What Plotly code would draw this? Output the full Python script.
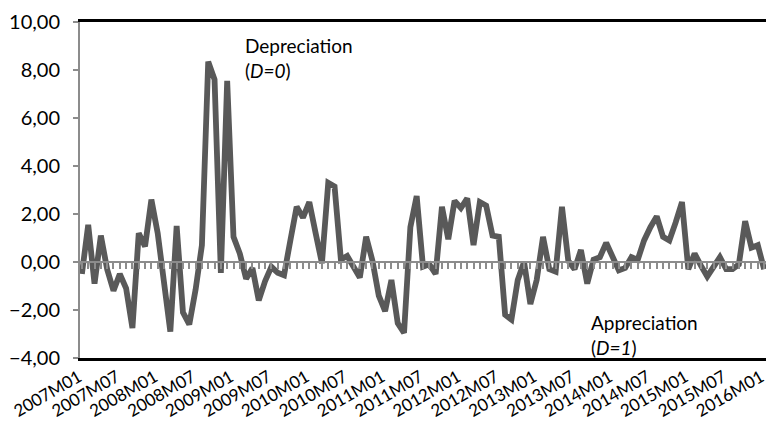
import plotly.graph_objects as go

# Monthly periods 2007M01 .. 2016M01
periods = [f"{y}M{m:02d}" for y in range(2007, 2017) for m in range(1, 13)][:109]

values = [
    -0.5, 1.55, -0.9, 1.1, -0.3, -1.2, -0.5, -1.1, -2.75, 1.2,
    0.65, 2.6, 1.2, -0.8, -2.9, 1.5, -2.1, -2.6, -1.15, 0.7,
    8.35, 7.6, -0.45, 7.55, 1.05, 0.35, -0.7, -0.25, -1.6, -0.8,
    -0.2, -0.45, -0.55, 0.9, 2.3, 1.85, 2.5, 1.2, -0.05, 3.3,
    3.15, 0.1, 0.25, -0.2, -0.65, 1.05, 0.05, -1.4, -2.05, -0.75,
    -2.55, -2.95, 1.45, 2.75, -0.2, -0.1, -0.5, 2.3, 0.95, 2.55,
    2.25, 2.65, 0.7, 2.5, 2.35, 1.1, 1.05, -2.2, -2.4, -0.75,
    0.0, -1.75, -0.75, 1.05, -0.3, -0.4, 2.3, 0.05, -0.3, 0.5,
    -0.9, 0.1, 0.2, 0.8, 0.25, -0.35, -0.25, 0.2, 0.1, 0.9,
    1.45, 1.9, 1.05, 0.9, 1.65, 2.5, -0.3, 0.35, -0.15, -0.6,
    -0.2, 0.2, -0.3, -0.3, -0.1, 1.7, 0.6, 0.7, -0.3,
]

tick_labels = periods[::6]
y_ticks = [-4, -2, 0, 2, 4, 6, 8, 10]

idx = list(range(len(periods)))

FONT = "Lato"

fig = go.Figure()

# invisible trace to carry the category tick axis at y = 0
fig.add_trace(go.Scatter(
    x=idx, y=values, xaxis="x2", mode="lines",
    line=dict(color="rgba(0,0,0,0)", width=0), hoverinfo="skip", showlegend=False,
))

fig.add_trace(go.Scatter(
    x=idx, y=values, mode="lines",
    line=dict(color="#595959", width=5.8),
    showlegend=False,
))

fig.update_layout(
    width=766, height=432,
    margin=dict(l=80, r=0, t=22, b=74),
    paper_bgcolor="white", plot_bgcolor="white",
    separators=",.",
    font=dict(family=FONT, size=16, color="#000000"),
    xaxis=dict(
        range=[-0.3, 108.3],
        tickmode="array",
        tickvals=idx[::6],
        ticktext=tick_labels,
        tickangle=-30,
        tickfont=dict(size=17, family=FONT),
        ticklabeloverflow="allow",
        ticklabelshift=-3,
        showgrid=False, zeroline=False,
        showline=True, linecolor="#000000", linewidth=2.5, mirror=True,
        ticks="", automargin=False,
    ),
    xaxis2=dict(
        range=[-0.3, 108.3],
        overlaying="x",
        anchor="free",
        position=4 / 14,
        side="bottom",
        showticklabels=False,
        showgrid=False, zeroline=False,
        showline=True, linecolor="#8c8c8c", linewidth=2,
        ticks="outside", ticklen=6, tickwidth=2, tickcolor="#8c8c8c",
        tickmode="linear", tick0=0, dtick=1, automargin=False,
    ),
    yaxis=dict(
        range=[-4, 10],
        tickvals=y_ticks,
        tickformat=".2f",
        tickfont=dict(size=20, family=FONT),
        ticklabelstandoff=9,
        showgrid=False, zeroline=False,
        showline=True, linecolor="#8c8c8c", linewidth=2,
        ticks="outside", ticklen=5, tickcolor="#8c8c8c", tickwidth=1.5,
        automargin=False,
    ),
    annotations=[
        dict(xref="paper", yref="paper", x=0.2376, y=0.971,
             xanchor="left", yanchor="top", align="left", showarrow=False,
             text="Depreciation<br>(<i>D=0</i>)",
             font=dict(size=19, family=FONT, color="#000000")),
        dict(xref="paper", yref="paper", x=0.742, y=0.145,
             xanchor="left", yanchor="top", align="left", showarrow=False,
             text="Appreciation<br>(<i>D=1</i>)",
             font=dict(size=19, family=FONT, color="#000000")),
    ],
)

fig.write_html(
    "out.html",
    config={"displayModeBar": False},
    post_script="document.body.style.margin='0';document.body.style.overflow='hidden';",
)
